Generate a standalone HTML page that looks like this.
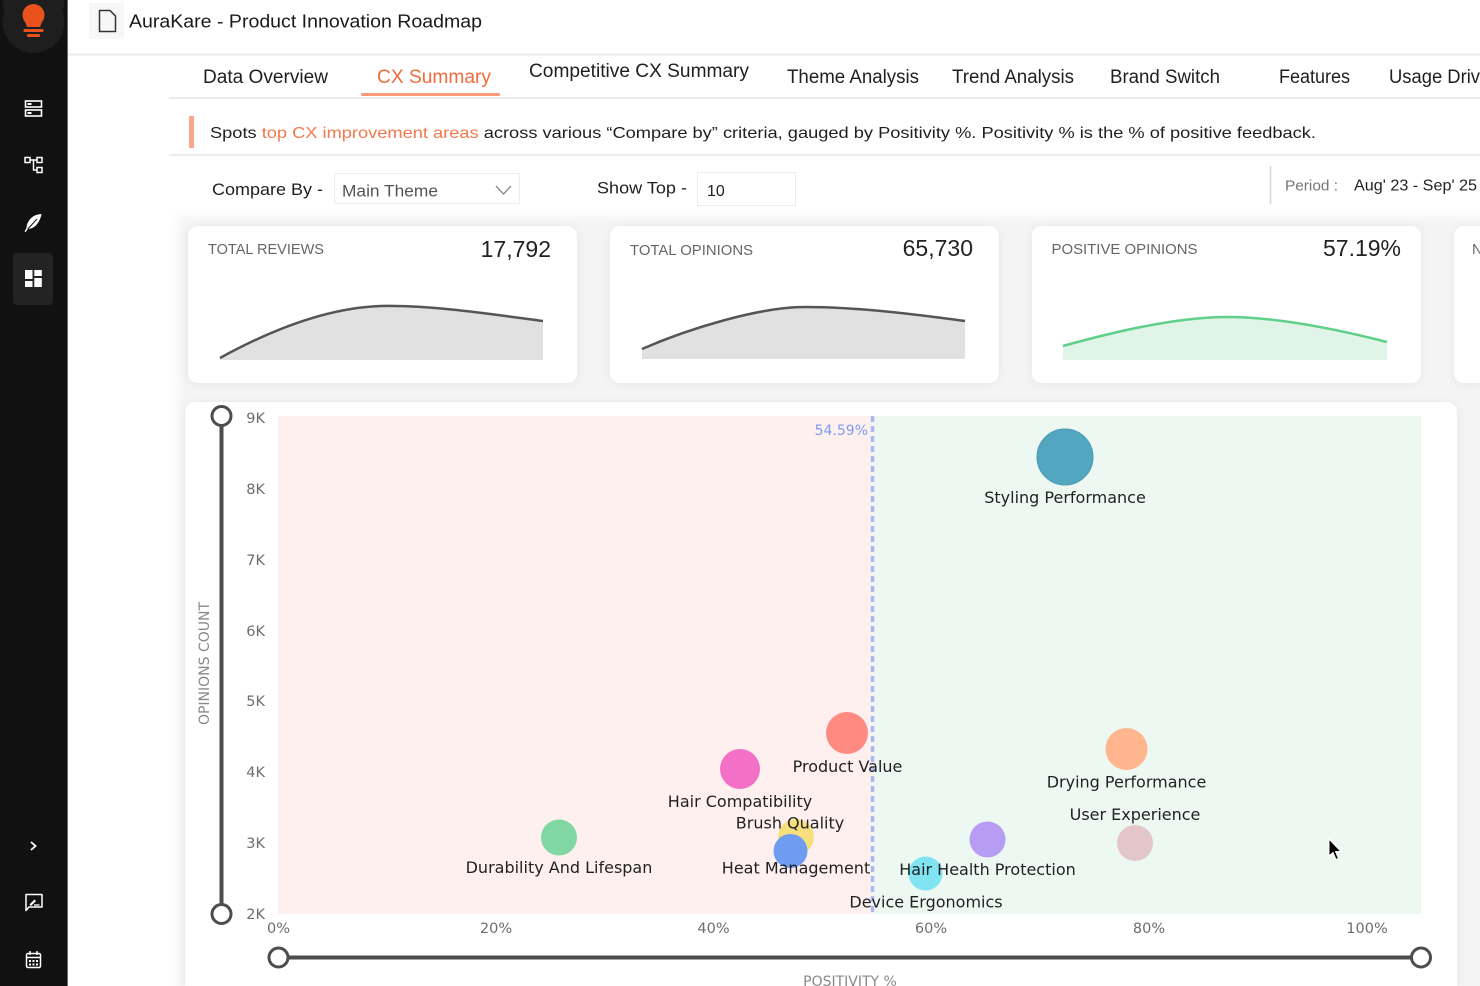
<!DOCTYPE html>
<html><head><meta charset="utf-8"><style>
html,body{margin:0;padding:0;background:#fff;}
body{width:1480px;height:986px;overflow:hidden;position:relative;}
svg{display:block;}
</style></head>
<body>
<svg width="1480" height="986" viewBox="0 0 1480 986" xmlns="http://www.w3.org/2000/svg" font-family="'Liberation Sans', Arial, sans-serif" overflow="hidden">
<defs>
<filter id="sh" x="-5%" y="-10%" width="110%" height="120%"><feDropShadow dx="0" dy="1" stdDeviation="4" flood-color="#000" flood-opacity="0.06"/></filter>
<linearGradient id="gl" x1="0" y1="0" x2="1" y2="0"><stop offset="0" stop-color="#fff" stop-opacity="1"/><stop offset="1" stop-color="#fff" stop-opacity="0"/></linearGradient>
<linearGradient id="gt" x1="0" y1="0" x2="0" y2="1"><stop offset="0" stop-color="#fff" stop-opacity="1"/><stop offset="1" stop-color="#fff" stop-opacity="0"/></linearGradient>
</defs>
<rect width="1480" height="986" fill="#fff"/>

<!-- grey content background -->
<rect x="170" y="208" width="1310" height="778" fill="#f4f4f4"/>
<rect x="170" y="208" width="15" height="778" fill="url(#gl)"/>
<rect x="170" y="208" width="1310" height="16" fill="url(#gt)"/>

<!-- sidebar -->
<rect x="0" y="0" width="67" height="986" fill="#111"/>
<line x1="67.5" y1="0" x2="67.5" y2="986" stroke="#6a6a6a" stroke-width="1"/>
<path d="M2.5 0 A31 31 0 0 0 64.5 0 Z M33.5 -9 m-31 0 a31 31 0 1 0 62 0" fill="#1e1e1e"/>
<circle cx="33.5" cy="22" r="31" fill="#1e1e1e"/>
<circle cx="33.5" cy="15" r="11" fill="#e9511d"/>
<polygon points="24,19 43,19 40,27 27,27" fill="#e9511d"/>
<rect x="23.5" y="29" width="20" height="3" rx="1" fill="#e9511d"/>
<rect x="27" y="34" width="13" height="3" rx="1" fill="#e9511d"/>

<!-- icon 1 -->
<g fill="none" stroke="#fff" stroke-width="1.6">
<rect x="25.5" y="101" width="16" height="6"/>
<rect x="25.5" y="110" width="16" height="6"/>
</g>
<rect x="27.5" y="103" width="4" height="2" fill="#fff"/>
<rect x="27.5" y="112" width="4" height="2" fill="#fff"/>
<!-- icon 2 hierarchy -->
<g fill="none" stroke="#fff" stroke-width="1.5">
<rect x="25" y="157.5" width="5" height="5"/>
<rect x="37" y="157.5" width="5" height="5"/>
<rect x="37" y="167.5" width="5" height="5"/>
<path d="M30 160 H37 M33.5 160 V170 H37"/>
</g>
<!-- icon 3 feather -->
<path d="M41.5 214 C32 214.5 27 221 26.5 228 L24.5 231.5 L25.8 232 L27.8 229 C35 229 40 222 41.5 214 Z" fill="#fff"/>
<path d="M27.8 229 L37 219" stroke="#111" stroke-width="1"/>
<!-- icon 4 active -->
<rect x="13" y="253" width="40" height="52" rx="4" fill="#232323"/>
<g fill="#fff">
<rect x="25" y="270" width="7.5" height="9"/>
<rect x="34.3" y="270" width="7.5" height="6"/>
<rect x="25" y="281" width="7.5" height="6"/>
<rect x="34.3" y="278" width="7.5" height="9"/>
</g>
<!-- chevron -->
<polyline points="31,842 35.5,846 31,850" fill="none" stroke="#fff" stroke-width="1.8"/>
<!-- chat icon -->
<path d="M26 894.5 H42 V907 H29 L26 910.5 Z" fill="none" stroke="#fff" stroke-width="1.5" stroke-linejoin="round"/>
<path d="M29.5 904.5 L34.5 899.5 L36 901 L31 906 Z" fill="#fff"/>
<line x1="34" y1="905" x2="39.5" y2="905" stroke="#fff" stroke-width="1.3"/>
<!-- calendar -->
<rect x="26.5" y="953.5" width="14" height="14" rx="1.5" fill="none" stroke="#fff" stroke-width="1.5"/>
<line x1="26.5" y1="957.5" x2="40.5" y2="957.5" stroke="#fff" stroke-width="1.5"/>
<line x1="30" y1="951" x2="30" y2="955" stroke="#fff" stroke-width="1.5"/>
<line x1="37" y1="951" x2="37" y2="955" stroke="#fff" stroke-width="1.5"/>
<g fill="#fff"><rect x="29" y="960" width="2" height="2"/><rect x="32.5" y="960" width="2" height="2"/><rect x="36" y="960" width="2" height="2"/><rect x="29" y="963.5" width="2" height="2"/><rect x="32.5" y="963.5" width="2" height="2"/><rect x="36" y="963.5" width="2" height="2"/></g>

<!-- header -->
<rect x="89" y="3" width="35" height="36" fill="#f7f7f7"/>
<path d="M99.5 10.5 H110 L115.5 16 V31.5 H99.5 Z" fill="none" stroke="#333" stroke-width="1.5" stroke-linejoin="round"/>
<text x="129" y="27.5" font-size="18" fill="#1a1a1a" textLength="353" lengthAdjust="spacingAndGlyphs">AuraKare - Product Innovation Roadmap</text>
<rect x="68" y="53.5" width="1412" height="2" fill="#ececec"/>

<!-- tabs -->
<g font-size="19" fill="#1f1f1f">
<text x="203" y="83" textLength="125" lengthAdjust="spacingAndGlyphs">Data Overview</text>
<text x="377" y="83" fill="#f26a3b" textLength="114" lengthAdjust="spacingAndGlyphs">CX Summary</text>
<text x="529" y="77" textLength="220" lengthAdjust="spacingAndGlyphs">Competitive CX Summary</text>
<text x="787" y="83" textLength="132" lengthAdjust="spacingAndGlyphs">Theme Analysis</text>
<text x="952" y="83" textLength="122" lengthAdjust="spacingAndGlyphs">Trend Analysis</text>
<text x="1110" y="83" textLength="110" lengthAdjust="spacingAndGlyphs">Brand Switch</text>
<text x="1279" y="83" textLength="71" lengthAdjust="spacingAndGlyphs">Features</text>
<text x="1389" y="83" textLength="91" lengthAdjust="spacingAndGlyphs">Usage Driv</text>
</g>
<rect x="169" y="97" width="1311" height="2" fill="#ececec"/>
<rect x="361" y="93" width="139" height="3" rx="1" fill="#fb9a76"/>

<!-- info bar -->
<rect x="189" y="116" width="5" height="32" fill="#fca68a"/>
<text x="210" y="138" font-size="16" fill="#1f1f1f" textLength="1106" lengthAdjust="spacingAndGlyphs">Spots <tspan fill="#f5784c">top CX improvement areas</tspan> across various “Compare by” criteria, gauged by Positivity %. Positivity % is the % of positive feedback.</text>
<rect x="169" y="154" width="1311" height="2" fill="#ececec"/>

<!-- filters -->
<text x="212" y="195" font-size="17" fill="#1f1f1f" textLength="111" lengthAdjust="spacingAndGlyphs">Compare By -</text>
<rect x="334.5" y="173.5" width="185" height="30" fill="#fff" stroke="#ececec" stroke-width="1"/>
<text x="342" y="196.5" font-size="17" fill="#555" textLength="96" lengthAdjust="spacingAndGlyphs">Main Theme</text>
<polyline points="496,186 503.5,194 511,186" fill="none" stroke="#888" stroke-width="1.3"/>
<text x="597" y="193.5" font-size="17" fill="#1f1f1f" textLength="90" lengthAdjust="spacingAndGlyphs">Show Top -</text>
<rect x="697.5" y="172.5" width="98" height="33" fill="#fff" stroke="#ececec" stroke-width="1"/>
<text x="707" y="196" font-size="16" fill="#222">10</text>
<line x1="1270.5" y1="166" x2="1270.5" y2="204" stroke="#d6d6d6" stroke-width="1.5"/>
<text x="1285" y="190.5" font-size="15" fill="#777" textLength="53" lengthAdjust="spacingAndGlyphs">Period :</text>
<text x="1354" y="190.5" font-size="16" fill="#222" textLength="123" lengthAdjust="spacingAndGlyphs">Aug' 23 - Sep' 25</text>

<!-- KPI cards -->
<g filter="url(#sh)" fill="#fff">
<rect x="188" y="226" width="389" height="157" rx="10"/>
<rect x="610" y="226" width="389" height="157" rx="10"/>
<rect x="1032" y="226" width="389" height="157" rx="10"/>
<path d="M1480 226 H1464 A10 10 0 0 0 1454 236 V373 A10 10 0 0 0 1464 383 H1480 Z"/>
</g>
<g font-size="14.5" fill="#666">
<text x="208" y="254" textLength="116" lengthAdjust="spacingAndGlyphs">TOTAL REVIEWS</text>
<text x="630" y="255" textLength="123" lengthAdjust="spacingAndGlyphs">TOTAL OPINIONS</text>
<text x="1051.5" y="254" textLength="146" lengthAdjust="spacingAndGlyphs">POSITIVE OPINIONS</text>
<text x="1472" y="254">N</text>
</g>
<g font-size="23" fill="#222" text-anchor="end">
<text x="551" y="257">17,792</text>
<text x="973" y="256">65,730</text>
<text x="1401" y="256">57.19%</text>
</g>
<!-- sparklines -->
<path d="M220 358 C260 336 320 308 381 306 C430 305 490 314 543 321 L543 360 L220 360 Z" fill="#e1e1e1"/>
<path d="M220 358 C260 336 320 308 381 306 C430 305 490 314 543 321" fill="none" stroke="#555" stroke-width="2.5"/>
<path d="M642 349 C690 328 760 307 805 307 C860 307 920 315 965 321 L965 359 L642 359 Z" fill="#e1e1e1"/>
<path d="M642 349 C690 328 760 307 805 307 C860 307 920 315 965 321" fill="none" stroke="#555" stroke-width="2.5"/>
<path d="M1063 346 C1120 330 1180 317 1227 317 C1280 317 1340 330 1387 342 L1387 360 L1063 360 Z" fill="#e0f5e7"/>
<path d="M1063 346 C1120 330 1180 317 1227 317 C1280 317 1340 330 1387 342" fill="none" stroke="#5fcf8a" stroke-width="2.5"/>

<!-- chart card -->
<path d="M185 986 V412 A10 10 0 0 1 195 402 H1447 A10 10 0 0 1 1457 412 V986 Z" fill="#fff" filter="url(#sh)"/>
<rect x="278" y="416" width="594" height="498" fill="#fff0f0"/>
<rect x="872" y="416" width="549" height="498" fill="#eef8f3"/>
<line x1="872.5" y1="416" x2="872.5" y2="914" stroke="#adb9f2" stroke-width="3.5" stroke-dasharray="6,4"/>
<text x="868" y="435" font-family="'DejaVu Sans', sans-serif" font-size="14" fill="#7b9cf2" text-anchor="end">54.59%</text>

<!-- y ticks -->
<g font-family="'DejaVu Sans', sans-serif" font-size="14.5" fill="#6e6e6e" text-anchor="end">
<text x="265" y="423">9K</text>
<text x="265" y="494">8K</text>
<text x="265" y="565">7K</text>
<text x="265" y="636">6K</text>
<text x="265" y="706">5K</text>
<text x="265" y="777">4K</text>
<text x="265" y="848">3K</text>
<text x="265" y="919">2K</text>
</g>
<!-- x ticks -->
<g font-family="'DejaVu Sans', sans-serif" font-size="14.5" fill="#6e6e6e" text-anchor="middle">
<text x="278.5" y="933">0%</text>
<text x="496" y="933">20%</text>
<text x="713.5" y="933">40%</text>
<text x="931" y="933">60%</text>
<text x="1149" y="933">80%</text>
<text x="1367" y="933">100%</text>
</g>
<text transform="translate(209 663.5) rotate(-90)" font-family="'DejaVu Sans', sans-serif" font-size="14" fill="#888" text-anchor="middle">OPINIONS COUNT</text>
<text x="850" y="986" font-family="'DejaVu Sans', sans-serif" font-size="14" fill="#888" text-anchor="middle">POSITIVITY %</text>

<!-- sliders -->
<line x1="221.5" y1="416" x2="221.5" y2="914" stroke="#4d4d4d" stroke-width="4"/>
<circle cx="221.5" cy="416" r="9.5" fill="#fff" stroke="#4d4d4d" stroke-width="3"/>
<circle cx="221.5" cy="914" r="9.5" fill="#fff" stroke="#4d4d4d" stroke-width="3"/>
<line x1="278" y1="957.5" x2="1421" y2="957.5" stroke="#4d4d4d" stroke-width="4"/>
<circle cx="278.5" cy="957.5" r="9.5" fill="#fff" stroke="#4d4d4d" stroke-width="3"/>
<circle cx="1421" cy="957.5" r="9.5" fill="#fff" stroke="#4d4d4d" stroke-width="3"/>

<!-- bubbles -->
<circle cx="1065" cy="457" r="28" fill="#52a6bf" stroke="#4a9cb6" stroke-width="1"/>
<circle cx="847" cy="733" r="21" fill="#fe8a82"/>
<circle cx="740" cy="769" r="20" fill="#f270c5"/>
<circle cx="1126.5" cy="749" r="21" fill="#ffb68f"/>
<circle cx="1135" cy="843" r="18" fill="#e2c6c8"/>
<circle cx="987.5" cy="839.5" r="18" fill="#b69cf3"/>
<circle cx="925.5" cy="873.5" r="17" fill="#80e4f2"/>
<circle cx="796" cy="837" r="18" fill="#f7df7e"/>
<circle cx="790.5" cy="851" r="17" fill="#6d9cf0"/>
<circle cx="559" cy="837.5" r="18" fill="#80d7a1"/>

<!-- bubble labels -->
<g font-family="'DejaVu Sans', sans-serif" font-size="16" fill="#222" text-anchor="middle">
<text x="1065" y="503">Styling Performance</text>
<text x="847.5" y="772">Product Value</text>
<text x="740" y="807">Hair Compatibility</text>
<text x="790" y="828.5">Brush Quality</text>
<text x="796" y="873.5">Heat Management</text>
<text x="987.5" y="875">Hair Health Protection</text>
<text x="926" y="907.5">Device Ergonomics</text>
<text x="1126.5" y="787.5">Drying Performance</text>
<text x="1135" y="820">User Experience</text>
<text x="559" y="873">Durability And Lifespan</text>
</g>

<!-- cursor -->
<path d="M1329 839 L1329 856 L1333 852.5 L1336 859.5 L1338.5 858.5 L1335.5 851.5 L1341 851.5 Z" fill="#000" stroke="#fff" stroke-width="1"/>
</svg>
</body></html>
